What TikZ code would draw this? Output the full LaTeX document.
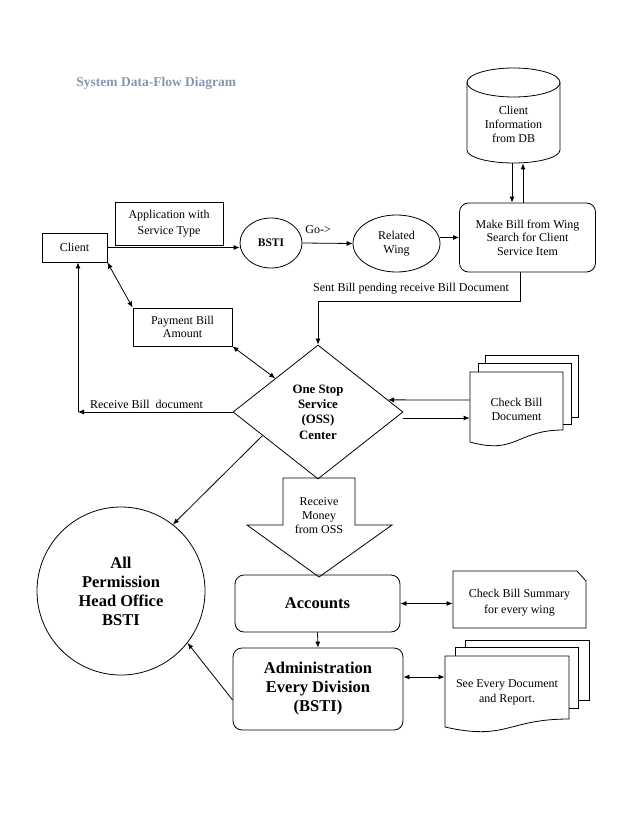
\documentclass[tikz,border=0pt]{standalone}
\usepackage{fontspec}
\setmainfont{Liberation Serif}
\usetikzlibrary{shapes.geometric,arrows.meta,calc}
\definecolor{titleblue}{HTML}{8497B0}
\newcommand\myfs[2]{\fontsize{#1}{#2}\selectfont}
\begin{document}
\begin{tikzpicture}[x=1pt,y=-1pt,
  line width=0.8pt,
  txt/.style={inner sep=0pt, align=center, font=\myfs{12}{14}},
  box/.style={txt, draw, rectangle},
  rbox/.style={box, rounded corners=9pt},
  lbl/.style={inner sep=0pt, font=\myfs{12}{14}},
  arr/.style={-{Latex[length=6pt,width=5pt]}},
  darr/.style={{Latex[length=6pt,width=5pt]}-{Latex[length=6pt,width=5pt]}},
  big/.style={font=\bfseries\myfs{16.5}{19}}
]
\path[use as bounding box] (0,0) rectangle (638,826);

% title
\node[anchor=west, inner sep=0pt, text=titleblue, font=\bfseries\myfs{13.5}{16}] (title) at (76,83) {System Data-Flow Diagram};

% top row
\node[box, minimum width=65pt, minimum height=29pt] (client) at (74.5,247.5) {Client};
\node[box, minimum width=108pt, minimum height=43pt, font=\myfs{12}{16}] (app) at (169,223.5) {Application with\\Service Type};
\node[ellipse, draw, inner sep=0pt, minimum width=62pt, minimum height=50pt, font=\bfseries\myfs{11.5}{14}] (bsti) at (271,243) {BSTI};
\node[lbl, anchor=west] (go) at (305,230) {Go->};
\node[txt, ellipse, draw, minimum width=87pt, minimum height=57pt] (wing) at (396.5,243.5) {Related\\Wing};
\node[rbox, minimum width=136pt, minimum height=69pt, font=\myfs{12}{13.5}] (make) at (527.5,237.5) {Make Bill from Wing\\Search for Client\\Service Item};

% database cylinder
\draw (467,82.5) -- (467,150) arc[start angle=180, end angle=0, x radius=46.5, y radius=13] -- (560,82.5);
\draw (513.5,82.5) ellipse[x radius=46.5, y radius=14.5];
\node[txt, minimum width=93pt, minimum height=78pt] (db) at (513.5,124) {Client\\Information\\from DB};

\draw[arr] (client.east) -- (client.east -| bsti.west);
\draw[arr] (bsti.east) -- (wing.west);
\draw[arr] (wing.east |- make.west) -- (make.west);
\draw[arr] ([xshift=-1.5pt]db.south) -- ([xshift=-1.5pt]db.south |- make.north);
\draw[arr] ([xshift=9.5pt]db.south |- make.north) -- ([xshift=9.5pt]db.south);

% middle
\node[box, minimum width=99pt, minimum height=38pt, font=\myfs{12}{13}] (pay) at (182.5,327) {Payment Bill\\Amount};
\node[diamond, draw, aspect=1.27, minimum width=170pt, minimum height=134pt, inner sep=0pt, align=center, font=\bfseries\myfs{12.8}{15.3}] (oss) at (318,412) {One Stop\\Service\\(OSS)\\Center};

\draw[arr] ([xshift=-7.5pt]make.south) -- ++(0,28.5) -| (oss.north);
\node[lbl] (sent) at (411,289) {Sent Bill pending receive Bill Document};

\draw[darr] (client.south east) -- (pay.north west);
\draw[darr] (pay.south east) -- (oss.north west);

\coordinate (corner) at (78,412);
\draw[arr] (oss.west) -- (corner);
\draw[arr] (corner) -- (corner |- client.south);
\node[lbl] (recv) at (146.5,404) {Receive Bill\ \ document};

% check bill document stack
\draw (485,363) -- (485,355) -- (578,355) -- (578,417) -- (571,417);
\draw (478,372) -- (478,363) -- (571,363) -- (571,424) -- (563,424);
\draw (470,372) -- (563,372) -- (563,430) .. controls (516.5,430) and (516.5,455) .. (470,442) -- cycle;
\node[txt, minimum width=93pt] (chk) at (516.5,409) {Check Bill\\Document};

\draw[arr] ([yshift=9pt]chk.west) -- ($(oss.north)!0.82!(oss.east)$);
\draw[arr] ([yshift=-6pt]oss.east) -- ([yshift=-6pt]oss.east -| chk.west);

% circle
\node[circle, draw, minimum size=168pt, inner sep=0pt, align=center, big] (circ) at (121,591) {All\\Permission\\Head Office\\BSTI};
\draw[arr] ($(oss.west)!0.35!(oss.south)$) -- (circ.52);

% block arrow
\draw (283,478) -- (355,478) -- (355,525) -- (392,525) -- (319,577) -- (247,525) -- (283,525) -- cycle;
\node[txt, font=\myfs{12}{14}] (money) at (319,516) {Receive\\Money\\from OSS};

% accounts and admin
\node[rbox, minimum width=165pt, minimum height=57pt, big] (acc) at (317.5,603.5) {Accounts};
\node[rbox, minimum width=170pt, minimum height=82pt, big] (admin) at (318,689) {Administration\\Every Division\\(BSTI)};
\draw[arr] (acc.south) -- (admin.north);
\draw[arr] ([yshift=-11pt]admin.west) -- (circ.-38);

% summary card
\draw (453,571) -- (577,571) -- (586,581) -- (586,628) -- (453,628) -- cycle;
\node[txt, minimum width=133pt, font=\myfs{12}{16}] (sum) at (519.5,603) {Check Bill Summary\\for every wing};
\draw[darr] (acc.east) -- (acc.east -| sum.west);

% see every document stack
\draw (465,647) -- (465,640) -- (589,640) -- (589,700) -- (578,700);
\draw (455,656) -- (455,647) -- (578,647) -- (578,708) -- (569,708);
\draw (445,656) -- (569,656) -- (569,719) .. controls (507,719) and (507,741) .. (445,727) -- cycle;
\node[txt, minimum width=124pt, font=\myfs{12}{15}] (seedoc) at (507,692) {See Every Document\\and Report.};
\draw[darr] ([yshift=12pt]admin.east) -- ([yshift=12pt]admin.east -| seedoc.west);
\end{tikzpicture}
\end{document}
